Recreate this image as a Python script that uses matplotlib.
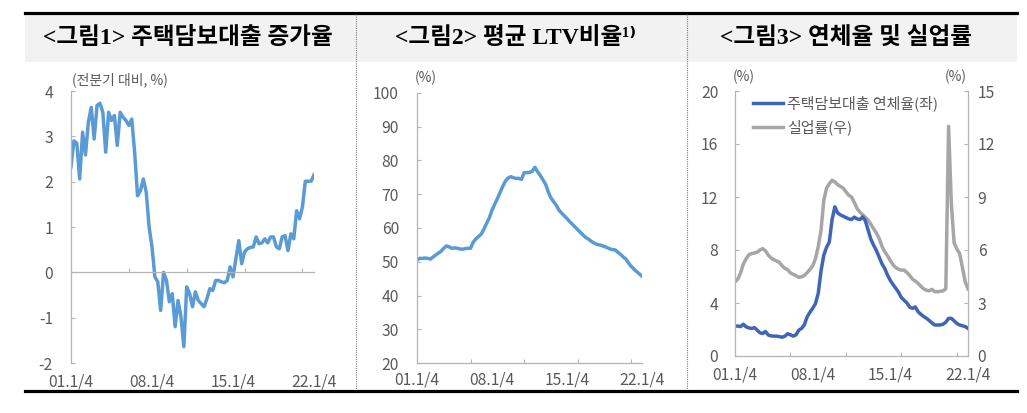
import matplotlib
matplotlib.use("Agg")
import matplotlib.pyplot as plt
from matplotlib.lines import Line2D
from matplotlib.patches import Rectangle

plt.rcParams["font.family"] = ["Noto Sans CJK KR", "DejaVu Sans"]
plt.rcParams["axes.unicode_minus"] = False

# 01.1/4 ~ 22.1/4, quarterly (85 points)
QUARTERS = [f"{y:02d}.{q}/4" for y in range(1, 23) for q in range(1, 5)][:85]
XLABELS = ["01.1/4", "08.1/4", "15.1/4", "22.1/4"]
XMARKS = [20, 40, 60, 80]

TITLES = ["<그림1> 주택담보대출 증가율",
          "<그림2> 평균 LTV비율¹⁾",
          "<그림3> 연체율 및 실업률"]

# <그림1> 주택담보대출 증가율 (전분기 대비, %)
loan_growth = [
    2.33, 2.90, 2.85, 2.06, 3.09, 2.59, 3.31, 3.64, 2.94, 3.68,
    3.73, 3.53, 2.65, 3.53, 3.35, 3.46, 2.80, 3.53, 3.42, 3.35,
    3.24, 3.38, 2.65, 1.69, 1.80, 2.06, 1.77, 1.00, 0.56, -0.10,
    -0.21, -0.84, 0.00, -0.18, -0.65, -0.47, -1.20, -0.62, -0.98, -1.64,
    -0.32, -0.47, -0.76, -0.43, -0.62, -0.69, -0.76, -0.58, -0.36, -0.40,
    -0.18, -0.18, -0.21, -0.23, -0.18, 0.12, -0.10, 0.30, 0.70, 0.19,
    0.45, 0.52, 0.55, 0.56, 0.78, 0.63, 0.65, 0.74, 0.65, 0.78,
    0.78, 0.56, 0.52, 0.78, 0.81, 0.48, 0.85, 0.74, 1.36, 1.18,
    1.44, 2.01, 2.01, 2.01, 2.15,
]

# <그림2> 평균 LTV비율 (%)
ltv_ratio = [
    50.5, 51.0, 51.0, 51.1, 51.0, 50.8, 51.4, 52.0, 52.6, 53.1,
    54.0, 54.7, 54.4, 54.0, 54.1, 54.0, 53.8, 53.7, 53.9, 54.0,
    54.0, 55.8, 56.8, 57.5, 58.2, 59.7, 61.4, 63.0, 65.3, 67.0,
    68.7, 70.5, 72.3, 73.9, 74.8, 75.2, 74.9, 74.7, 74.7, 74.4,
    76.4, 76.4, 76.5, 76.8, 78.0, 76.7, 75.6, 74.3, 73.0, 70.7,
    68.9, 67.8, 66.7, 65.3, 64.4, 63.6, 62.8, 61.9, 61.1, 60.3,
    59.5, 58.7, 57.9, 57.2, 56.7, 56.1, 55.6, 55.2, 55.0, 54.8,
    54.5, 54.2, 53.8, 53.6, 53.5, 52.8, 52.2, 51.4, 50.8, 49.6,
    48.6, 47.8, 47.1, 46.4, 45.7,
]

# <그림3> 주택담보대출 연체율(좌), 실업률(우)
delinquency = [
    2.26, 2.26, 2.22, 2.40, 2.20, 2.12, 2.08, 2.14, 1.95, 1.75,
    1.70, 1.85, 1.58, 1.52, 1.50, 1.50, 1.46, 1.42, 1.50, 1.68,
    1.60, 1.50, 1.60, 1.95, 2.08, 2.35, 2.95, 3.30, 3.60, 3.95,
    4.72, 6.40, 7.60, 8.20, 8.60, 10.30, 11.26, 10.80, 10.65, 10.55,
    10.45, 10.35, 10.30, 10.48, 10.35, 10.30, 10.50, 10.20, 9.50, 8.80,
    8.35, 7.95, 7.45, 6.95, 6.60, 6.10, 5.70, 5.38, 5.10, 4.80,
    4.40, 4.20, 4.00, 3.68, 3.60, 3.70, 3.34, 3.15, 2.98, 2.85,
    2.68, 2.50, 2.34, 2.34, 2.34, 2.40, 2.55, 2.84, 2.84, 2.65,
    2.45, 2.34, 2.28, 2.22, 2.08,
]
unemployment = [
    4.20, 4.35, 4.70, 5.20, 5.50, 5.73, 5.80, 5.83, 5.88, 6.00,
    6.08, 5.95, 5.71, 5.55, 5.45, 5.38, 5.30, 5.10, 4.96, 4.88,
    4.70, 4.62, 4.55, 4.45, 4.48, 4.56, 4.72, 4.90, 5.10, 5.50,
    6.18, 7.10, 8.80, 9.50, 9.75, 9.95, 9.85, 9.70, 9.60, 9.50,
    9.30, 9.10, 9.00, 8.70, 8.35, 8.15, 8.00, 7.85, 7.69, 7.45,
    7.20, 6.95, 6.65, 6.20, 5.90, 5.67, 5.40, 5.15, 5.00, 4.90,
    4.86, 4.86, 4.72, 4.55, 4.35, 4.24, 4.11, 3.95, 3.80, 3.72,
    3.69, 3.77, 3.64, 3.64, 3.66, 3.69, 3.80, 13.00, 8.60, 6.40,
    6.05, 5.80, 5.00, 4.20, 3.80,
]

BLUE_LIGHT = "#5B9BD5"
BLUE_DARK = "#3F65B8"
GREY_LINE = "#A6A6A6"
AXIS_GREY = "#B4B4B4"
TEXT_GREY = "#595959"
TICK_FS = 11.3

W, H = 1027, 413
PX = 0.72  # points per pixel at dpi 100

fig = plt.figure(figsize=(W / 100, H / 100), dpi=100, facecolor="white")


def px_axes(left, top, right, bottom):
    return fig.add_axes([left / W, 1 - bottom / H, (right - left) / W, (bottom - top) / H])


def style(ax, spines, ypad):
    for s in ["top", "right", "left", "bottom"]:
        ax.spines[s].set_visible(s in spines)
        ax.spines[s].set_color(AXIS_GREY)
        ax.spines[s].set_linewidth(0.9)
    ax.tick_params(direction="in", length=3, width=0.8, color=AXIS_GREY,
                   labelcolor=TEXT_GREY, labelsize=TICK_FS)
    ax.tick_params(axis="y", pad=ypad)
    ax.set_facecolor("none")


def x_axis(ax, dy_px):
    x = list(range(len(QUARTERS)))
    ax.set_xlim(x[0], x[-1])
    ax.set_xticks(XMARKS)
    ax.set_xticklabels([])
    for lab in XLABELS:
        ax.annotate(lab, xy=(QUARTERS.index(lab), 0), xycoords=("data", "axes fraction"),
                    xytext=(0, -dy_px * PX), textcoords="offset points",
                    ha="center", va="center", fontsize=TICK_FS, color=TEXT_GREY)
    return x


def unit_label(ax, text, xfrac, dx_px, dy_px, ha="center"):
    ax.annotate(text, xy=(xfrac, 1), xycoords="axes fraction",
                xytext=(dx_px * PX, dy_px * PX), textcoords="offset points",
                ha=ha, va="center", fontsize=10, color=TEXT_GREY)


# --- frame: title band, rules, separators ---
fig.patches.append(Rectangle((25 / W, 1 - 62 / H), (1017 - 25) / W, 49 / H,
                             transform=fig.transFigure, facecolor="#F2F2F2",
                             edgecolor="none", zorder=0))
for yy in (12.5, 391):
    fig.add_artist(Line2D([25 / W, 1017 / W], [1 - yy / H, 1 - yy / H],
                          transform=fig.transFigure, color="black", lw=2.3))
for xx in (356, 687):
    fig.add_artist(Line2D([xx / W, xx / W], [1 - 14 / H, 1 - 389 / H],
                          transform=fig.transFigure, color="#7F7F7F", lw=0.8,
                          linestyle=(0, (1, 1))))

for cx, title in zip((188, 516, 846), TITLES):
    fig.text(cx / W, 1 - 38 / H, title, ha="center", va="center", fontsize=17,
             fontweight="bold", color="black",
             family=["Liberation Serif", "Noto Sans CJK KR", "DejaVu Sans"])

# --- <그림1> ---
ax1 = px_axes(71, 91, 314, 363)
style(ax1, ["left", "bottom"], ypad=13)
ax1.spines["bottom"].set_position(("data", 0))
x = x_axis(ax1, 19)
ax1.plot(x, loan_growth, color=BLUE_LIGHT, lw=2.5, solid_joinstyle="round")
ax1.set_ylim(-2, 4)
ax1.set_yticks(range(-2, 5))
ax1.set_yticklabels([str(v) for v in range(-2, 5)])
unit_label(ax1, "(전분기 대비, %)", 0, 1, 11, ha="left")

# --- <그림2> ---
ax2 = px_axes(417, 93, 642, 363)
style(ax2, ["left", "bottom"], ypad=13)
x = x_axis(ax2, 17)
ax2.plot(x, ltv_ratio, color=BLUE_LIGHT, lw=2.5, solid_joinstyle="round")
ax2.set_ylim(20, 100)
ax2.set_yticks(range(20, 101, 10))
unit_label(ax2, "(%)", 0, 9, 15)

# --- <그림3> ---
ax3 = px_axes(735, 91, 968, 356)
ax3r = ax3.twinx()
style(ax3, ["left", "bottom"], ypad=12)
style(ax3r, ["right"], ypad=7)
x = x_axis(ax3, 19)
ax3r.plot(x, unemployment, color=GREY_LINE, lw=2.5, solid_joinstyle="round")
ax3.plot(x, delinquency, color=BLUE_DARK, lw=2.5, solid_joinstyle="round")
ax3.set_zorder(ax3r.get_zorder() + 1)
ax3.set_ylim(0, 20)
ax3.set_yticks(range(0, 21, 4))
ax3r.set_ylim(0, 15)
ax3r.set_yticks(range(0, 16, 3))
unit_label(ax3, "(%)", 0, 9, 14)
unit_label(ax3, "(%)", 1, -12, 14)

handles = [Line2D([], [], color=BLUE_DARK, lw=2.5), Line2D([], [], color=GREY_LINE, lw=2.5)]
ax3.legend(handles, ["주택담보대출 연체율(좌)", "실업률(우)"], loc="upper left",
           bbox_to_anchor=(0.077, 0.985), frameon=False, fontsize=10.8,
           handlelength=2.0, handletextpad=0.25, labelspacing=0.55,
           borderpad=0, borderaxespad=0, labelcolor=TEXT_GREY)

fig.savefig("out.png", dpi=100, facecolor="white")
